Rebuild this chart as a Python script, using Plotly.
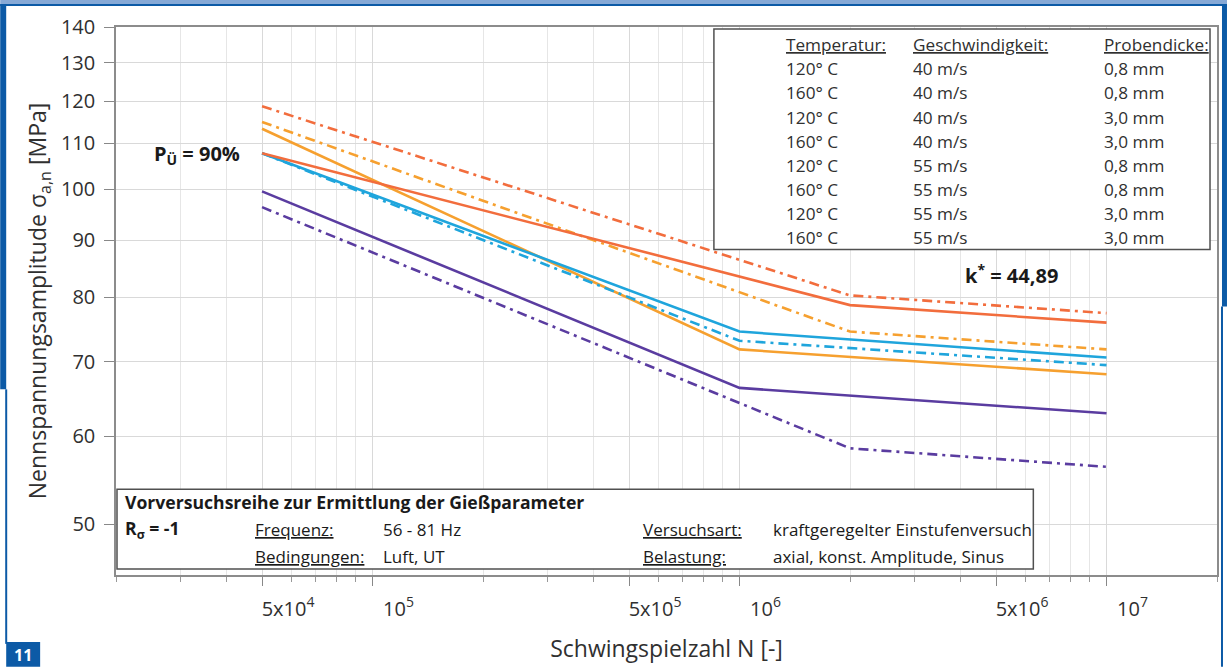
import plotly.graph_objects as go

# ---------------- data ----------------
temps = ["120° C", "160° C", "120° C", "160° C", "120° C", "160° C", "120° C", "160° C"]
speeds = ["40 m/s", "40 m/s", "40 m/s", "40 m/s", "55 m/s", "55 m/s", "55 m/s", "55 m/s"]
thick = ["0,8 mm", "0,8 mm", "3,0 mm", "3,0 mm", "0,8 mm", "0,8 mm", "3,0 mm", "3,0 mm"]

n_s1 = [5e4, 1e6, 1e7]; s_s1 = [99.6, 66.3, 62.9]
n_s2 = [5e4, 2e6, 1e7]; s_s2 = [107.8, 78.7, 75.9]
n_s3 = [5e4, 1e6, 1e7]; s_s3 = [107.8, 74.5, 70.6]
n_s4 = [5e4, 1e6, 1e7]; s_s4 = [113.4, 71.8, 68.2]
n_s5 = [5e4, 2e6, 1e7]; s_s5 = [96.4, 58.5, 56.3]
n_s6 = [5e4, 2e6, 1e7]; s_s6 = [118.8, 80.3, 77.4]
n_s7 = [5e4, 1e6, 1e7]; s_s7 = [107.8, 73.1, 69.5]
n_s8 = [5e4, 2e6, 1e7]; s_s8 = [115.0, 74.5, 71.8]

x_tickvals = [5e4, 1e5, 5e5, 1e6, 5e6, 1e7]
x_ticktext = ["5x10<sup>4</sup>", "10<sup>5</sup>", "5x10<sup>5</sup>", "10<sup>6</sup>",
              "5x10<sup>6</sup>", "10<sup>7</sup>"]
y_tickvals = [50, 60, 70, 80, 90, 100, 110, 120, 130, 140]

# ---------------- styles ----------------
PURPLE = "#5a3ca0"
RED = "#f26d3d"
CYAN = "#1fa5dc"
ORANGE = "#f6a02f"
DASHDOT = "10px,5px,3px,5px"
colors = [PURPLE, RED, CYAN, ORANGE, PURPLE, RED, CYAN, ORANGE]
dashes = ["solid"] * 4 + [DASHDOT] * 4
series_n = [n_s1, n_s2, n_s3, n_s4, n_s5, n_s6, n_s7, n_s8]
series_s = [s_s1, s_s2, s_s3, s_s4, s_s5, s_s6, s_s7, s_s8]

FONT = "Open Sans"
TXT = "#303030"

W, H = 1229, 668
L, R, T, B = 116, 10, 27, 92
PW, PH = W - L - R, H - T - B


def px(x):
    return (x - L) / PW


def py(y):
    return (H - B - y) / PH


fig = go.Figure()
order = [0, 4, 3, 7, 2, 6, 1, 5]
for i in order:
    fig.add_trace(go.Scatter(
        x=series_n[i], y=series_s[i], mode="lines",
        line=dict(color=colors[i], width=2.6, dash=dashes[i]),
        name=f"{temps[i]} {speeds[i]} {thick[i]}", showlegend=False,
        hoverinfo="x+y+name"))

# minor tick positions (1..9 multiples)
minor_vals = []
for e in range(4, 8):
    for k in range(2, 10):
        v = k * 10 ** e
        if 2e4 <= v <= 2e7 and v not in x_tickvals:
            minor_vals.append(v)

fig.update_xaxes(
    type="log", range=[4.30103, 7.30103],
    tickvals=x_tickvals, ticktext=x_ticktext,
    ticks="outside", ticklen=9, tickcolor="#888", tickwidth=1,
    ticklabelshift=26, ticklabelstandoff=6,
    tickfont=dict(family=FONT, size=20, color=TXT),
    showgrid=True, gridcolor="#d9d9d9", gridwidth=1,
    minor=dict(tickvals=minor_vals, ticks="outside", ticklen=5, tickcolor="#999",
               showgrid=True, gridcolor="#e6e6e6", gridwidth=1),
    showline=True, mirror=True, linecolor="#8c8c8c", linewidth=1.5,
    zeroline=False,
    title=dict(text="Schwingspielzahl N [-]", font=dict(family=FONT, size=23, color=TXT),
               standoff=20),
)
fig.update_yaxes(
    type="log", range=[1.65321, 2.14613],
    tickvals=y_tickvals, ticktext=[str(v) for v in y_tickvals],
    ticks="outside", ticklen=10, tickcolor="#888",
    ticklabelstandoff=5,
    tickfont=dict(family=FONT, size=20, color=TXT),
    showgrid=True, gridcolor="#d9d9d9", gridwidth=1,
    showline=True, mirror=True, linecolor="#8c8c8c", linewidth=1.5,
    zeroline=False,
    title=dict(text="Nennspannungsamplitude σ<sub>a,n</sub> [MPa]",
               font=dict(family=FONT, size=23, color=TXT), standoff=8),
)

shapes = []
annotations = []

# ---------- legend table ----------
shapes.append(dict(type="rect", xref="paper", yref="paper",
                   x0=px(715), x1=px(1212), y0=py(250), y1=py(29),
                   line=dict(color="#505050", width=1.5), fillcolor="white", layer="above"))
col_x = [785, 912, 1104]
headers = ["Temperatur:", "Geschwindigkeit:", "Probendicke:"]
LFS = 17.2
for cx, htxt in zip(col_x, headers):
    annotations.append(dict(xref="paper", yref="paper", x=px(cx), y=py(45),
                            text=f"<u>{htxt}</u>", showarrow=False, xanchor="left",
                            yanchor="middle", font=dict(family=FONT, size=LFS, color=TXT)))
row_y0, row_dy = 69, 24.1
for i in range(8):
    yy = row_y0 + i * row_dy
    fig.add_trace(go.Scatter(
        x=[px(718), px(764)], y=[py(yy), py(yy)], xaxis="x2", yaxis="y2",
        mode="lines", line=dict(color=colors[i], width=2.2, dash=dashes[i]),
        showlegend=False, hoverinfo="skip"))
    for cx, txt in zip(col_x, [temps[i], speeds[i], thick[i]]):
        annotations.append(dict(xref="paper", yref="paper", x=px(cx), y=py(yy),
                                text=txt, showarrow=False, xanchor="left", yanchor="middle",
                                font=dict(family=FONT, size=LFS, color=TXT)))

fig.update_layout(
    xaxis2=dict(overlaying="x", range=[0, 1], visible=False, fixedrange=True),
    yaxis2=dict(overlaying="y", range=[0, 1], visible=False, fixedrange=True),
)

# ---------- bottom info box ----------
shapes.append(dict(type="rect", xref="paper", yref="paper",
                   x0=px(117), x1=px(1035), y0=py(570), y1=py(490),
                   line=dict(color="#505050", width=1.5), fillcolor="white", layer="above"))
BFS = 17
box_items = [
    (123, 503, "<b>Vorversuchsreihe zur Ermittlung der Gießparameter</b>", 17.6),
    (123, 530, "<b>R<sub>σ</sub> = -1</b>", 17.6),
    (253, 530, "<u>Frequenz:</u>", BFS),
    (381, 530, "56 - 81 Hz", BFS),
    (253, 557, "<u>Bedingungen:</u>", BFS),
    (381, 557, "Luft, UT", BFS),
    (642, 530, "<u>Versuchsart:</u>", BFS),
    (772, 530, "kraftgeregelter Einstufenversuch", BFS),
    (642, 557, "<u>Belastung:</u>", BFS),
    (772, 557, "axial, konst. Amplitude, Sinus", BFS),
]
for bx, by, txt, fs in box_items:
    annotations.append(dict(xref="paper", yref="paper", x=px(bx), y=py(by), text=txt,
                            showarrow=False, xanchor="left", yanchor="middle",
                            font=dict(family=FONT, size=fs, color="#1a1a1a")))

# ---------- labels in plot ----------
annotations.append(dict(xref="paper", yref="paper", x=px(197), y=py(155),
                        text="<b>P<sub>Ü</sub> = 90%</b>", showarrow=False,
                        xanchor="center", yanchor="middle",
                        font=dict(family=FONT, size=20, color="#1a1a1a")))
annotations.append(dict(xref="paper", yref="paper", x=px(1013), y=py(275),
                        text="<b>k<sup>*</sup> = 44,89</b>", showarrow=False,
                        xanchor="center", yanchor="middle",
                        font=dict(family=FONT, size=20, color="#1a1a1a")))

# ---------- page frame decoration ----------
DARK = "#0c5aa6"
LIGHT = "#86a9d6"
shapes += [
    dict(type="rect", xref="paper", yref="paper", x0=px(0), x1=px(W), y0=py(4), y1=py(0),
         line=dict(width=0), fillcolor=LIGHT, layer="above"),
    dict(type="rect", xref="paper", yref="paper", x0=px(0), x1=px(W), y0=py(6), y1=py(4),
         line=dict(width=0), fillcolor=DARK, layer="above"),
    dict(type="rect", xref="paper", yref="paper", x0=px(0), x1=px(6), y0=py(390), y1=py(4),
         line=dict(width=0), fillcolor=DARK, layer="above"),
    dict(type="rect", xref="paper", yref="paper", x0=px(5), x1=px(7), y0=py(645), y1=py(390),
         line=dict(width=0), fillcolor=DARK, layer="above"),
    dict(type="rect", xref="paper", yref="paper", x0=px(1224), x1=px(1229), y0=py(307), y1=py(4),
         line=dict(width=0), fillcolor=DARK, layer="above"),
    dict(type="rect", xref="paper", yref="paper", x0=px(1223), x1=px(1225), y0=py(668), y1=py(307),
         line=dict(width=0), fillcolor=DARK, layer="above"),
    dict(type="rect", xref="paper", yref="paper", x0=px(6), x1=px(40), y0=py(668), y1=py(643),
         line=dict(width=0), fillcolor=DARK, layer="above"),
]
annotations.append(dict(xref="paper", yref="paper", x=px(23), y=py(656), text="<b>11</b>",
                        showarrow=False, xanchor="center", yanchor="middle",
                        font=dict(family=FONT, size=16, color="white")))

fig.update_layout(
    width=W, height=H, margin=dict(l=L, r=R, t=T, b=B, pad=0),
    paper_bgcolor="white", plot_bgcolor="white",
    font=dict(family=FONT, color=TXT),
    shapes=shapes, annotations=annotations, showlegend=False,
    hovermode=False,
)

fig.write_html("out.html", config={"displayModeBar": False},
               post_script="document.body.style.margin='0';document.body.style.overflow='hidden';")
